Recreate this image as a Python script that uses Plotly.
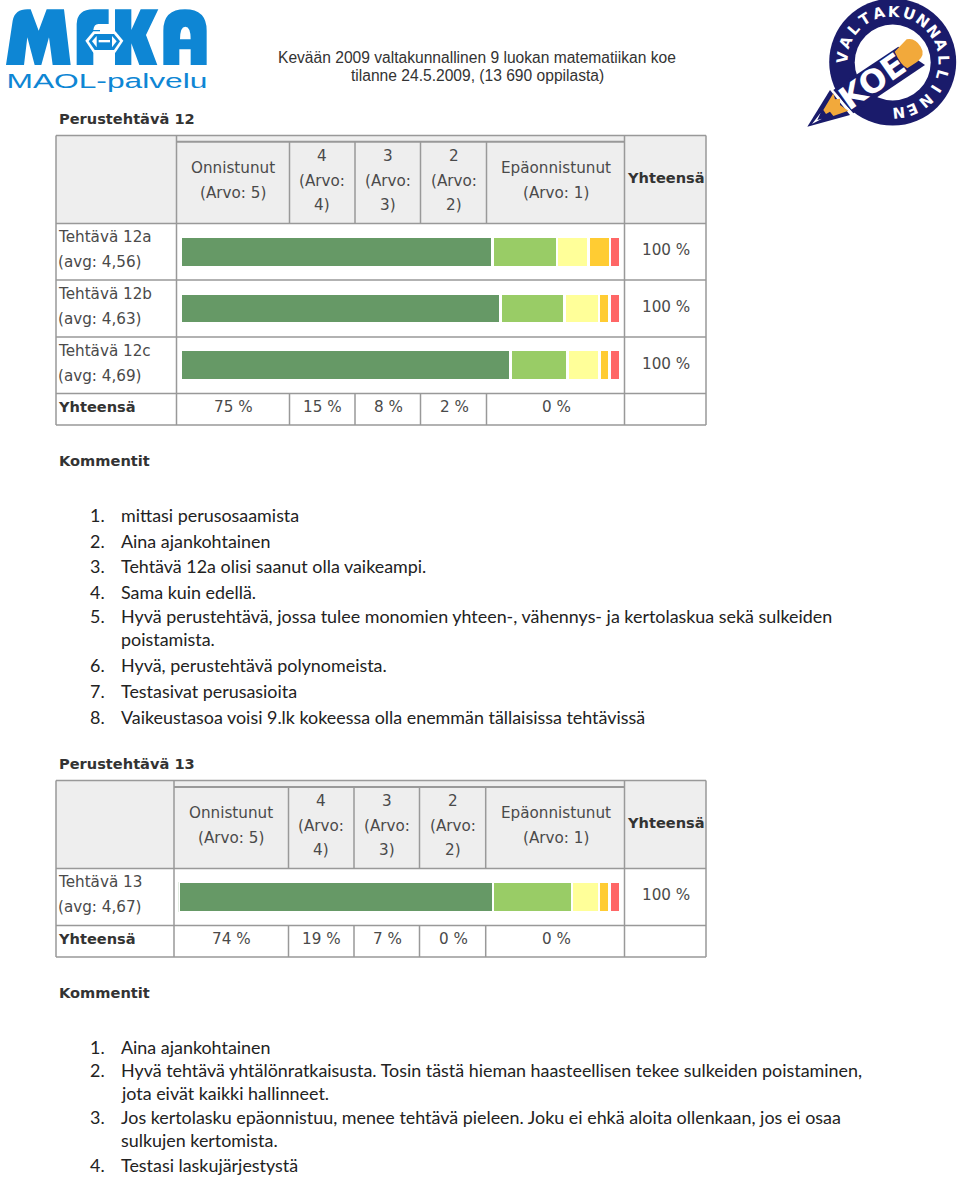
import math
import plotly.graph_objects as go

# ---------- data ----------
series_names = ["Onnistunut", "4", "3", "2", "Epäonnistunut"]
series_colors = ["#669966", "#99CC66", "#FFFF99", "#FFCC33", "#FF6666"]

t12_categories = ["Tehtävä 12a", "Tehtävä 12b", "Tehtävä 12c"]
t12_avg = ["(avg: 4,56)", "(avg: 4,63)", "(avg: 4,69)"]
t12_s5 = [71.0, 72.8, 75.1]
t12_s4 = [14.6, 14.6, 13.0]
t12_s3 = [7.2, 7.8, 7.2]
t12_s2 = [4.9, 2.4, 2.3]
t12_s1 = [2.3, 2.4, 2.4]
t12_totals = ["75 %", "15 %", "8 %", "2 %", "0 %"]
row_total = "100 %"

t13_categories = ["Tehtävä 13"]
t13_avg = ["(avg: 4,67)"]
t13_s5 = [71.2]
t13_s4 = [17.9]
t13_s3 = [6.1]
t13_s2 = [2.4]
t13_s1 = [2.4]
t13_totals = ["74 %", "19 %", "7 %", "0 %", "0 %"]

title_lines = ["Kevään 2009 valtakunnallinen 9 luokan matematiikan koe",
               "tilanne 24.5.2009, (13 690 oppilasta)"]
ring_text = "VALTAKUNNALLINEN"

comments_12 = [
    ["1.", "mittasi perusosaamista"],
    ["2.", "Aina ajankohtainen"],
    ["3.", "Tehtävä 12a olisi saanut olla vaikeampi."],
    ["4.", "Sama kuin edellä."],
    ["5.", "Hyvä perustehtävä, jossa tulee monomien yhteen-, vähennys- ja kertolaskua sekä sulkeiden"],
    ["", "poistamista."],
    ["6.", "Hyvä, perustehtävä polynomeista."],
    ["7.", "Testasivat perusasioita"],
    ["8.", "Vaikeustasoa voisi 9.lk kokeessa olla enemmän tällaisissa tehtävissä"],
]
comments_13 = [
    ["1.", "Aina ajankohtainen"],
    ["2.", "Hyvä tehtävä yhtälönratkaisusta. Tosin tästä hieman haasteellisen tekee sulkeiden poistaminen,"],
    ["", "jota eivät kaikki hallinneet."],
    ["3.", "Jos kertolasku epäonnistuu, menee tehtävä pieleen. Joku ei ehkä aloita ollenkaan, jos ei osaa"],
    ["", "sulkujen kertomista."],
    ["4.", "Testasi laskujärjestystä"],
]

# ---------- page helpers ----------
W, H = 960, 1179
X = lambda px: px / W
Y = lambda py: 1 - py / H
TXT = "#4a4a4a"
BOLD = "#333333"
VERD = "DejaVu Sans"
BODY = "Lato"
BLUE = "#0E86D4"
NAVY = "#1A1B6B"
ORANGE = "#F2A93B"
GRID = "#999999"
annotations, shapes = [], []


def text(x, y, s, size=15.2, color=TXT, family=VERD, anchor="left", bold=False, angle=0):
    dy = 0.7 if family == VERD and angle == 0 and not bold else 0
    annotations.append(dict(
        x=X(x), y=Y(y + dy), xref="paper", yref="paper", text=f"<b>{s}</b>" if bold else s,
        showarrow=False, xanchor=anchor, yanchor="middle", textangle=angle,
        font=dict(size=size, color=color, family=family), borderpad=0, borderwidth=0,
    ))


def line(x0, y0, x1, y1, color=GRID, width=1.5):
    shapes.append(dict(type="line", xref="paper", yref="paper", x0=X(x0), y0=Y(y0), x1=X(x1), y1=Y(y1),
                       line=dict(color=color, width=width)))


def rect(x0, y0, x1, y1, fill):
    shapes.append(dict(type="rect", xref="paper", yref="paper", x0=X(x0), y0=Y(y0), x1=X(x1), y1=Y(y1),
                       fillcolor=fill, line=dict(width=0), layer="below"))


def poly(cmds, fill, ox=0, oy=0, scale=1 / 3):
    """cmds: list of (cmd, x, y, ...) in zoom-crop pixels, converted to paper coordinates."""
    out = []
    for c in cmds:
        if c[0] == "Z":
            out.append("Z")
            continue
        nums = c[1:]
        pts = []
        for i in range(0, len(nums), 2):
            pts.append(f"{X(ox + nums[i] * scale):.5f},{Y(oy + nums[i + 1] * scale):.5f}")
        out.append(c[0] + " ".join(pts))
    shapes.append(dict(type="path", xref="paper", yref="paper", path=" ".join(out),
                       fillcolor=fill, line=dict(width=0)))


def circle(cx, cy, r, fill):
    shapes.append(dict(type="circle", xref="paper", yref="paper", x0=X(cx - r), x1=X(cx + r),
                       y0=Y(cy - r), y1=Y(cy + r), fillcolor=fill, line=dict(width=0)))


def table(top, sub, head, rows, bottom, cols, header_cx, ys):
    left, right = 56, 706
    rect(left, top, right, head, "#EEEEEE")
    line(left, top, right, top)
    line(cols[0], sub, cols[-2], sub, width=2)
    line(left, head, right, head)
    for r in rows:
        line(left, r, right, r)
    line(left, bottom, right, bottom)
    line(left, top, left, bottom)
    line(right, top, right, bottom)
    line(cols[0], top, cols[0], bottom)
    line(cols[-2], top, cols[-2], bottom)
    for c in cols[1:-2]:
        line(c, sub, c, head)
        line(c, rows[-1], c, bottom)
    # header cells
    onn, a, b, c_, epa = header_cx
    text(onn, ys + 31, "Onnistunut", anchor="center")
    text(onn, ys + 56, "(Arvo: 5)", anchor="center")
    for cx, n in ((a, "4"), (b, "3"), (c_, "2")):
        text(cx, ys + 19, n, anchor="center")
        text(cx, ys + 44, "(Arvo:", anchor="center")
        text(cx, ys + 68.5, f"{n})", anchor="center")
    text(epa, ys + 31, "Epäonnistunut", anchor="center")
    text(epa, ys + 56, "(Arvo: 1)", anchor="center")
    text(666, ys + 41, "Yhteensä", bold=True, color=BOLD, anchor="center", size=14.6)


# ---------- tables ----------
cols12 = [176.5, 289.5, 355, 420.5, 486.5, 624.5, 706]
cols13 = [174, 288.5, 354, 419.5, 485.7, 624.5, 706]
table(135.5, 141.7, 223.5, [280, 337, 393.5], 425, cols12, [233, 322, 388, 454, 556], 136)
table(780.5, 787, 868.5, [925.5], 957, cols13, [231, 321, 387, 453, 556], 781)

for i, (c, a) in enumerate(zip(t12_categories, t12_avg)):
    y0 = 236 + i * 57
    text(57.8, y0, c)
    text(57.8, y0 + 25, a)
    text(666, y0 + 13, row_total, anchor="center")
text(58, 406.5, "Yhteensä", bold=True, color=BOLD, size=14.6)
for cx, s in zip([233, 322, 388, 454, 556], t12_totals):
    text(cx, 406.5, s, anchor="center")

text(57.8, 881.5, t13_categories[0])
text(57.8, 906.5, t13_avg[0])
text(666, 894, row_total, anchor="center")
text(58, 938, "Yhteensä", bold=True, color=BOLD, size=14.6)
for cx, s in zip([231, 321, 387, 453, 556], t13_totals):
    text(cx, 938, s, anchor="center")

# ---------- headings and comments ----------
text(58.5, 118.5, "Perustehtävä 12", bold=True, color=BOLD, size=14.6)
text(58.5, 460.5, "Kommentit", bold=True, color=BOLD, size=14.6)
text(58.5, 763.5, "Perustehtävä 13", bold=True, color=BOLD, size=14.6)
text(58.5, 992.5, "Kommentit", bold=True, color=BOLD, size=14.6)

for ypos, (n, s) in zip([515, 540.5, 566, 591.5, 616, 639, 665, 690.5, 717], comments_12):
    if n:
        text(90, ypos, n, size=17.9, color="#222222", family=BODY)
    text(120.5, ypos, s, size=17.9, color="#222222", family=BODY)
for ypos, (n, s) in zip([1046.5, 1069.5, 1093, 1116.5, 1140, 1165], comments_13):
    if n:
        text(90, ypos, n, size=17.9, color="#222222", family=BODY)
    text(120.5, ypos, s, size=17.9, color="#222222", family=BODY)

text(477, 58, title_lines[0], size=15.6, color="#333333", family="Liberation Sans", anchor="center")
text(477, 75.5, title_lines[1], size=15.6, color="#333333", family="Liberation Sans", anchor="center")

# ---------- MFKA logo (crop pixels / 3) ----------
poly([("M", 18, 195), ("L", 38, 62), ("Q", 45, 28, 82, 28), ("L", 92, 28), ("L", 116, 92), ("L", 140, 28), ("L", 192, 28),
      ("L", 212, 195), ("L", 158, 195), ("L", 147, 112), ("L", 124, 195), ("L", 104, 195), ("L", 82, 112), ("L", 72, 195), ("Z",)], BLUE)
poly([("M", 230, 195), ("L", 230, 72), ("Q", 232, 28, 280, 28), ("L", 326, 28), ("L", 326, 72), ("L", 295, 72),
      ("Q", 282, 72, 280, 90), ("L", 300, 90), ("L", 300, 150), ("L", 280, 150), ("L", 280, 195), ("Z",)], BLUE)
poly([("M", 345, 195), ("L", 345, 28), ("L", 394, 28), ("L", 394, 90), ("L", 422, 28), ("L", 475, 28), ("L", 438, 105),
      ("L", 472, 195), ("L", 418, 195), ("L", 394, 130), ("L", 394, 195), ("Z",)], BLUE)
poly([("M", 490, 195), ("L", 490, 92), ("Q", 490, 28, 555, 28), ("Q", 620, 28, 620, 92), ("L", 620, 195), ("L", 572, 195),
      ("L", 572, 148), ("L", 538, 148), ("L", 538, 195), ("Z",)], BLUE)
poly([("M", 540, 118), ("Q", 540, 80, 556, 80), ("Q", 572, 80, 572, 118), ("Z",)], "#FFFFFF")
poly([("M", 256, 122), ("L", 280, 94), ("L", 346, 94), ("L", 370, 122), ("L", 346, 158), ("L", 280, 158), ("Z",)], "#FFFFFF")
poly([("M", 266, 124), ("L", 284, 102), ("L", 342, 102), ("L", 360, 124), ("L", 342, 150), ("L", 284, 150), ("Z",)], BLUE)
poly([("M", 276, 124), ("L", 290, 108), ("L", 290, 142), ("Z",)], "#FFFFFF")
poly([("M", 350, 124), ("L", 336, 108), ("L", 336, 142), ("Z",)], "#FFFFFF")
poly([("M", 296, 120), ("L", 330, 120), ("L", 330, 127), ("L", 296, 127), ("Z",)], "#FFFFFF")
text(106.5, 80.5, "MAOL-palvelu", size=20.5, color=BLUE, family="Liberation Sans", anchor="center")

# ---------- Valtakunnallinen koe logo (crop pixels / 3, origin x=800) ----------
cx, cy = 892.7, 62
circle(cx, cy, 63.5, NAVY)
circle(cx, cy + 0.5, 38, "#FFFFFF")
OX = 800
# pencil body, tip and eraser
poly([("M", 22, 380), ("L", 90, 270), ("L", 150, 345), ("Z",)], NAVY, ox=OX)
poly([("M", 100, 270), ("L", 295, 140), ("L", 375, 195), ("L", 160, 340), ("Z",)], NAVY, ox=OX)
poly([("M", 70, 330), ("L", 100, 280), ("L", 105, 298), ("L", 120, 296), ("L", 120, 315), ("L", 145, 332), ("L", 100, 348),
      ("L", 90, 335), ("L", 78, 342), ("Z",)], ORANGE, ox=OX)
poly([("M", 36, 372), ("L", 62, 338), ("L", 52, 360), ("L", 66, 356), ("Z",)], "#FFFFFF", ox=OX)
poly([("M", 284, 155), ("L", 320, 118), ("Q", 345, 112, 362, 140), ("Q", 378, 165, 352, 185), ("L", 322, 205), ("Q", 302, 195, 284, 155), ("Z",)],
     ORANGE, ox=OX)
text(871.5, 81.5, "KOE", size=32, color="#FFFFFF", bold=True, family="DejaVu Sans", anchor="center", angle=-35)
# ring lettering, clockwise from the left side of the badge
for i, ch in enumerate(ring_text):
    ang = -84 + i * 258 / (len(ring_text) - 1)
    rad = math.radians(ang)
    rr = 50.5
    text(cx + rr * math.sin(rad), cy - rr * math.cos(rad), ch, size=15, color="#FFFFFF", bold=True,
         anchor="center", angle=ang)

# ---------- bars ----------
fig = go.Figure()
for name, col, vals in zip(series_names, series_colors, [t12_s5, t12_s4, t12_s3, t12_s2, t12_s1]):
    fig.add_trace(go.Bar(y=t12_categories, x=vals, name=name, orientation="h", xaxis="x", yaxis="y",
                         marker=dict(color=col, line=dict(color="#FFFFFF", width=2.5)), showlegend=False))
for name, col, vals in zip(series_names, series_colors, [t13_s5, t13_s4, t13_s3, t13_s2, t13_s1]):
    fig.add_trace(go.Bar(y=t13_categories, x=vals, name=name, orientation="h", xaxis="x2", yaxis="y2",
                         marker=dict(color=col, line=dict(color="#FFFFFF", width=2.5)), showlegend=False))

hidden = dict(visible=False, showgrid=False, zeroline=False, fixedrange=True)
fig.update_layout(
    width=W, height=H, autosize=False, barmode="stack", bargap=0.47,
    margin=dict(l=0, r=0, t=0, b=0), paper_bgcolor="#FFFFFF", plot_bgcolor="rgba(0,0,0,0)",
    xaxis=dict(domain=[X(180.75), X(620)], range=[0, 100], anchor="y", **hidden),
    yaxis=dict(domain=[Y(393.5), Y(223.5)], autorange="reversed", anchor="x", type="category", **hidden),
    xaxis2=dict(domain=[X(178.25), X(620)], range=[0, 100], anchor="y2", **hidden),
    yaxis2=dict(domain=[Y(925.5), Y(868.5)], autorange="reversed", anchor="x2", type="category", **hidden),
    shapes=shapes, annotations=annotations, showlegend=False,
)
stretch = """
document.body.style.margin='0';document.body.style.overflow='hidden';
document.querySelectorAll('.annotation-text').forEach(function(t){
  if(t.textContent==='MAOL-palvelu'){t.setAttribute('textLength','201');t.setAttribute('lengthAdjust','spacingAndGlyphs');}
});
"""
fig.write_html("out.html", config={"displayModeBar": False}, post_script=stretch)
